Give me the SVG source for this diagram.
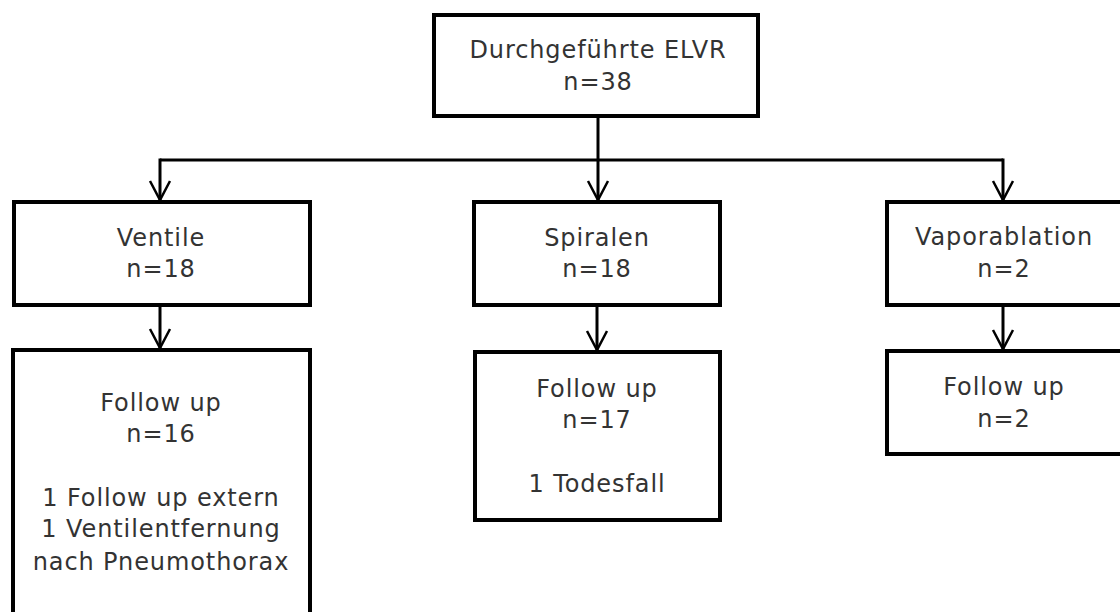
<svg xmlns="http://www.w3.org/2000/svg" width="1120" height="612" viewBox="0 0 1120 612">
<defs>
<marker id="v" markerUnits="userSpaceOnUse" markerWidth="26" markerHeight="26" viewBox="-22 -13 26 26" refX="0" refY="0" orient="auto">
<path d="M-19,-10 L0,0 L-19,10" fill="none" stroke="#000" stroke-width="2.5"/>
</marker>
<style>
.box{fill:#fff;stroke:#000;stroke-width:4}
.t{font-family:"DejaVu Sans",sans-serif;font-size:24px;letter-spacing:0.9px;fill:#333;text-anchor:middle}
.c{fill:none;stroke:#000;stroke-width:3}
</style>
</defs>
<rect width="1120" height="612" fill="#fff"/>
<g id="connectors">
<path class="c" d="M598,118 L598,160" stroke-width="4"/>
<path class="c" d="M160,160 L1003,160"/>
<path class="c" d="M160,158.5 L160,200" marker-end="url(#v)"/>
<path class="c" d="M598,160 L598,200" marker-end="url(#v)"/>
<path class="c" d="M1003,158.5 L1003,200" marker-end="url(#v)"/>
<path class="c" d="M160,307 L160,348" marker-end="url(#v)"/>
<path class="c" d="M597,307 L597,350" marker-end="url(#v)"/>
<path class="c" d="M1003,307 L1003,349" marker-end="url(#v)"/>
</g>
<g id="root">
<rect class="box" x="434" y="15" width="324" height="101"/>
<text class="t" x="598" y="58">Durchgeführte ELVR</text>
<text class="t" x="598" y="90">n=38</text>
</g>
<g id="ventile">
<rect class="box" x="14" y="202" width="296" height="103"/>
<text class="t" x="161" y="246">Ventile</text>
<text class="t" x="161" y="277">n=18</text>
</g>
<g id="spiralen">
<rect class="box" x="474" y="202" width="246" height="103"/>
<text class="t" x="597" y="246">Spiralen</text>
<text class="t" x="597" y="277">n=18</text>
</g>
<g id="vaporablation">
<rect class="box" x="887" y="202" width="260" height="103"/>
<text class="t" x="1004" y="245">Vaporablation</text>
<text class="t" x="1004" y="277">n=2</text>
</g>
<g id="followup-ventile">
<rect class="box" x="13" y="350" width="297" height="300"/>
<text class="t" x="161" y="411">Follow up</text>
<text class="t" x="161" y="442">n=16</text>
<text class="t" x="161" y="506">1 Follow up extern</text>
<text class="t" x="161" y="537">1 Ventilentfernung</text>
<text class="t" x="161" y="570">nach Pneumothorax</text>
</g>
<g id="followup-spiralen">
<rect class="box" x="475" y="352" width="245" height="168"/>
<text class="t" x="597" y="397">Follow up</text>
<text class="t" x="597" y="428">n=17</text>
<text class="t" x="597" y="492">1 Todesfall</text>
</g>
<g id="followup-vaporablation">
<rect class="box" x="887" y="351" width="260" height="103"/>
<text class="t" x="1004" y="395">Follow up</text>
<text class="t" x="1004" y="427">n=2</text>
</g>
</svg>
